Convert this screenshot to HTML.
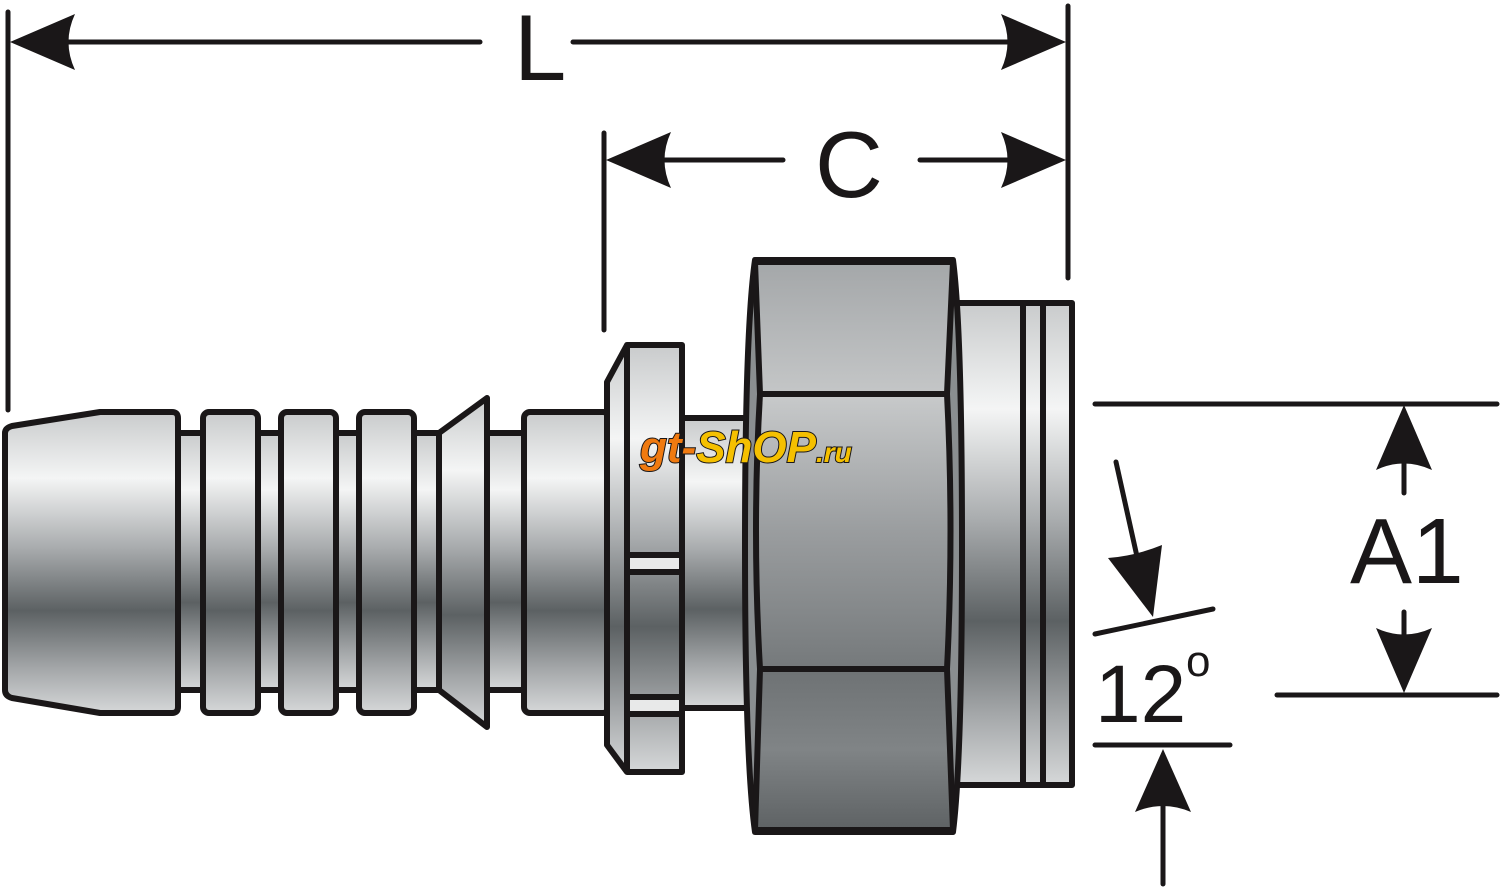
<!DOCTYPE html>
<html><head><meta charset="utf-8"><style>
html,body{margin:0;padding:0;background:#fff;}
svg{display:block;}
</style></head><body>
<svg width="1500" height="887" viewBox="0 0 1500 887" xmlns="http://www.w3.org/2000/svg">
<defs>
<linearGradient id="m" x1="0" y1="0" x2="0" y2="1">
<stop offset="0" stop-color="#c9cbcc"/>
<stop offset="0.22" stop-color="#f4f5f5"/>
<stop offset="0.45" stop-color="#a9acae"/>
<stop offset="0.66" stop-color="#5c6163"/>
<stop offset="0.85" stop-color="#a3a6a8"/>
<stop offset="1" stop-color="#d6d8d9"/>
</linearGradient>
<linearGradient id="hx1" x1="0" y1="0" x2="0" y2="1">
<stop offset="0" stop-color="#a4a7a9"/><stop offset="1" stop-color="#c4c6c7"/>
</linearGradient>
<linearGradient id="hx2" x1="0" y1="0" x2="0" y2="1">
<stop offset="0" stop-color="#c8cacb"/><stop offset="0.5" stop-color="#9a9d9f"/><stop offset="1" stop-color="#75797b"/>
</linearGradient>
<linearGradient id="hx3" x1="0" y1="0" x2="0" y2="1">
<stop offset="0" stop-color="#6e7274"/><stop offset="0.5" stop-color="#808486"/><stop offset="1" stop-color="#5e6264"/>
</linearGradient>
</defs>
<g stroke="#1a1718" stroke-width="6" stroke-linejoin="round">
<rect x="170" y="433" width="460" height="257" fill="url(#m)"/>
<path d="M5,433 Q5,428 12,426 L100,412 L172,412 Q178,412 178,418 L178,707 Q178,713 172,713 L100,713 L12,698 Q5,696 5,690 Z" fill="url(#m)"/>
<rect x="203" y="412" width="55" height="301" rx="6" fill="url(#m)"/>
<rect x="281" y="412" width="55" height="301" rx="6" fill="url(#m)"/>
<rect x="359" y="412" width="55" height="301" rx="6" fill="url(#m)"/>
<path d="M439,433 L487,398 L487,727 L439,690 Z" fill="url(#m)"/>
<rect x="524" y="412" width="85" height="301" rx="6" fill="url(#m)"/>
<rect x="680" y="418" width="70" height="290" fill="url(#m)"/>
<path d="M627,345 L682,345 L682,772 L627,772 L607,745 L607,382 Z" fill="url(#m)"/>
<line x1="627" y1="345" x2="627" y2="772"/>
<rect x="627" y="555" width="55" height="17" fill="#e8e9e9"/>
<rect x="627" y="697" width="55" height="17" fill="#e8e9e9"/>
<rect x="955" y="303" width="117" height="482" fill="url(#m)"/>
<line x1="1023" y1="303" x2="1023" y2="785"/>
<line x1="1043" y1="303" x2="1043" y2="785"/>
<path d="M755,260 L953,260 Q962,330 962,546 Q962,760 953,832 L755,832 Q745,760 745,546 Q745,330 755,260 Z" fill="#8a8e90"/>
<path d="M755,262 L953,262 L947,394 L760,394 Z" fill="url(#hx1)"/>
<path d="M760,394 L947,394 Q954,530 947,669 L760,669 Q752,530 760,394 Z" fill="url(#hx2)"/>
<path d="M760,669 L947,669 L953,830 L755,830 Z" fill="url(#hx3)"/>
</g>
<text x="640" y="462" font-family="Liberation Sans, sans-serif" font-weight="bold" font-style="italic" font-size="44" stroke="#1a1718" stroke-width="2" paint-order="stroke"><tspan fill="#f07a10">gt-</tspan><tspan fill="#f5c000">ShOP</tspan><tspan fill="#f5c000" font-size="28">.ru</tspan></text>

<g stroke="#1a1718" stroke-width="5" stroke-linecap="round" fill="none">
<line x1="8" y1="12" x2="8" y2="410"/>
<line x1="1068" y1="6" x2="1068" y2="278"/>
<line x1="60" y1="42" x2="480" y2="42"/>
<line x1="573" y1="42" x2="1010" y2="42"/>
<line x1="604" y1="133" x2="604" y2="330"/>
<line x1="655" y1="160" x2="783" y2="160"/>
<line x1="920" y1="160" x2="1010" y2="160"/>
<line x1="1095" y1="404" x2="1497" y2="404"/>
<line x1="1277" y1="695" x2="1497" y2="695"/>
<line x1="1404" y1="460" x2="1404" y2="493"/>
<line x1="1404" y1="612" x2="1404" y2="640"/>
<line x1="1095" y1="634" x2="1213" y2="609"/>
<line x1="1095" y1="745" x2="1230" y2="745"/>
<line x1="1116" y1="462" x2="1140" y2="570"/>
<line x1="1163" y1="800" x2="1163" y2="884"/>
</g>
<g fill="#1a1718">
<path d="M10,42 L75,14 Q62,42 75,70 Z"/>
<path d="M1066,42 L1001,14 Q1014,42 1001,70 Z"/>
<path d="M606,160 L671,132 Q658,160 671,188 Z"/>
<path d="M1066,160 L1001,132 Q1014,160 1001,188 Z"/>
<path d="M1404,405 L1376,470 Q1404,457 1432,470 Z"/>
<path d="M1404,693 L1376,628 Q1404,641 1432,628 Z"/>
<path d="M1153,617 L1108,558 Q1135,556 1162,545 Z"/>
<path d="M1163,749 L1135,812 Q1163,800 1191,812 Z"/>
</g>
<g font-family="Liberation Sans, sans-serif" fill="#1a1718">
<text x="514" y="80" font-size="94">L</text>
<text x="815" y="197" font-size="94">C</text>
<text x="1350" y="583" font-size="93">A1</text>
<text x="1095" y="722" font-size="82">12</text>
<text x="1186" y="676" font-size="44">o</text>
</g>
</svg>
</body></html>
